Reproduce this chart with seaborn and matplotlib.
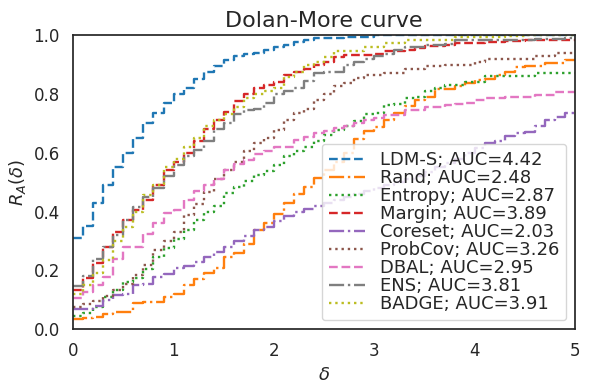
import numpy as np
import pandas as pd
import matplotlib
matplotlib.use("Agg")
import matplotlib.pyplot as plt
import seaborn as sns

delta = np.round(np.arange(51) * 0.1, 1)

methods = ["LDM-S", "Rand", "Entropy", "Margin", "Coreset", "ProbCov", "DBAL", "ENS", "BADGE"]
auc = [4.42, 2.48, 2.87, 3.89, 2.03, 3.26, 2.95, 3.81, 3.91]

ldms = [.31, .35, .43, .49, .55, .60, .65, .70, .735, .77,
        .80, .82, .85, .874, .895, .915, .93, .935, .94, .948,
        .96, .965, .978, .985, .99, .99, .99, .993, .993, .993,
        1, 1, 1, 1, 1, 1, 1, 1, 1, 1,
        1, 1, 1, 1, 1, 1, 1, 1, 1, 1, 1]
rand = [.034, .037, .04, .05, .058, .058, .088, .092, .092, .11,
        .12, .15, .17, .19, .207, .245, .26, .29, .337, .36,
        .39, .43, .46, .483, .514, .54, .57, .60, .646, .673,
        .687, .71, .735, .758, .78, .79, .816, .816, .826, .836,
        .847, .85, .863, .874, .89, .895, .895, .905, .905, .915, .915]
entropy = [.044, .054, .075, .11, .133, .16, .173, .204, .245, .275,
           .306, .337, .372, .40, .418, .462, .483, .503, .524, .537,
           .557, .59, .605, .62, .64, .66, .677, .69, .707, .73,
           .735, .762, .765, .786, .79, .81, .82, .83, .83, .84,
           .84, .86, .86, .86, .86, .86, .87, .87, .87, .87, .87]
margin = [.133, .173, .225, .28, .33, .37, .405, .44, .49, .54,
          .57, .60, .64, .68, .71, .74, .775, .80, .82, .83,
          .84, .864, .875, .884, .90, .91, .925, .932, .932, .932,
          .935, .945, .945, .95, .955, .962, .962, .966, .972, .972,
          .972, .975, .978, .98, .98, .982, .982, .984, .984, .985, .985]
coreset = [.068, .07, .08, .10, .115, .12, .15, .155, .177, .187,
           .207, .214, .23, .245, .262, .28, .30, .316, .337, .347,
           .367, .384, .40, .41, .418, .43, .44, .45, .46, .47,
           .48, .49, .50, .51, .52, .535, .55, .565, .58, .60,
           .615, .633, .64, .657, .667, .67, .69, .71, .72, .735, .74]
probcov = [.075, .085, .095, .112, .133, .155, .183, .217, .27, .30,
           .33, .387, .425, .467, .51, .54, .57, .605, .633, .65,
           .677, .71, .735, .75, .78, .80, .826, .836, .853, .863,
           .863, .87, .87, .884, .884, .894, .894, .898, .898, .90,
           .908, .92, .92, .92, .92, .92, .93, .93, .94, .94, .94]
dbal = [.105, .127, .15, .177, .24, .28, .28, .325, .36, .395,
        .405, .44, .47, .49, .51, .54, .56, .575, .595, .605,
        .62, .62, .643, .653, .667, .675, .683, .69, .70, .71,
        .717, .728, .728, .745, .745, .755, .755, .762, .765, .77,
        .78, .785, .785, .79, .79, .79, .795, .795, .805, .805, .805]
ens = [.146, .18, .24, .28, .32, .37, .415, .45, .48, .52,
       .557, .59, .61, .64, .68, .70, .73, .745, .75, .77,
       .80, .81, .82, .845, .87, .874, .874, .90, .908, .92,
       .928, .935, .948, .958, .958, .966, .966, .97, .983, .983,
       .983, .983, .983, .983, .983, .983, .986, .986, .986, .99, .99]
badge = [.12, .15, .19, .235, .30, .347, .40, .455, .49, .55,
         .58, .62, .65, .69, .71, .73, .755, .785, .80, .81,
         .82, .857, .875, .898, .908, .925, .945, .945, .945, .96,
         .96, .973, .973, .985, .985, .985, .985, .985, .993, .993,
         .993, .993, .993, .996, .996, 1, 1, 1, 1, 1, 1]

series = [ldms, rand, entropy, margin, coreset, probcov, dbal, ens, badge]
colors = sns.color_palette("tab10", 9)
styles = ["--", "-.", ":"]

sns.set_theme(style="white")
plt.rcParams["font.family"] = ["DejaVu Sans"]

fig = plt.figure(figsize=(5.9, 3.9), dpi=100)
ax = fig.add_axes([0.124, 0.156, 0.851, 0.754])

for i, (name, vals) in enumerate(zip(methods, series)):
    df = pd.DataFrame({"delta": delta, "R": vals})
    sns.lineplot(data=df, x="delta", y="R", ax=ax, color=colors[i],
                 linestyle=styles[i % 3], drawstyle="steps-post", linewidth=1.7,
                 label=f"{name}; AUC={auc[i]:.2f}")

ax.set_xlim(0, 5)
ax.set_ylim(0, 1)
ax.set_xticks([0, 1, 2, 3, 4, 5])
ax.set_yticks([0.0, 0.2, 0.4, 0.6, 0.8, 1.0])
ax.tick_params(labelsize=12)
ax.set_title("Dolan-More curve", fontsize=16)
ax.set_xlabel(r"$\delta$", fontsize=13)
ax.set_ylabel(r"$R_A(\delta)$", fontsize=13)
for s in ax.spines.values():
    s.set_color("#262626")
    s.set_linewidth(1.25)
ax.legend(loc="lower right", fontsize=13, labelspacing=0.0, handlelength=2.0)

fig.savefig("out.png", dpi=100)
